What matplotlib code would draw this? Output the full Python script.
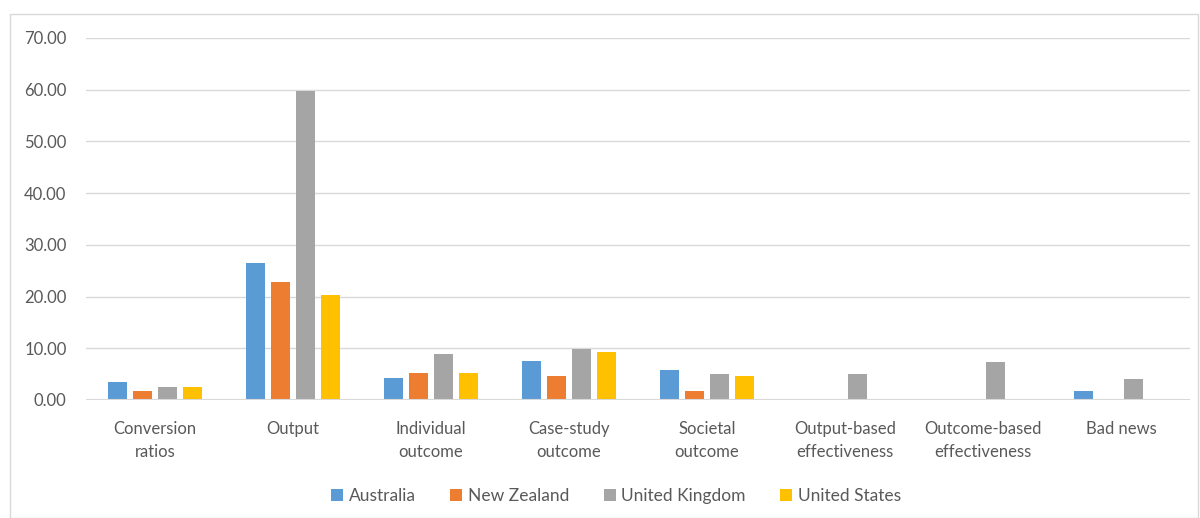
import numpy as np
import matplotlib.pyplot as plt
from matplotlib.patches import Rectangle

# Datos
categorias = ["Conversion\nratios", "Output", "Individual\noutcome", "Case-study\noutcome",
              "Societal\noutcome", "Output-based\neffectiveness", "Outcome-based\neffectiveness",
              "Bad news"]
paises = ["Australia", "New Zealand", "United Kingdom", "United States"]
australia = [3.4, 26.4, 4.2, 7.6, 5.8, 0.0, 0.0, 1.8]
nuevaZelanda = [1.8, 22.8, 5.2, 4.6, 1.8, 0.0, 0.0, 0.0]
reinoUnido = [2.6, 59.7, 8.8, 9.9, 5.1, 5.1, 7.4, 4.1]
estadosUnidos = [2.6, 20.3, 5.2, 9.2, 4.6, 0.0, 0.0, 0.0]
colores = ["#5B9BD5", "#ED7D31", "#A5A5A5", "#FFC000"]

plt.rcParams['font.family'] = ['Lato', 'DejaVu Sans']

fig = plt.figure(figsize=(12, 5.18), dpi=100)
ax = fig.add_axes([86/1200, 1-400/518, 1104/1200, 362/518])

x = np.arange(len(categorias))
paso = 0.182
ancho = 0.142
series = [australia, nuevaZelanda, reinoUnido, estadosUnidos]
for i, valores in enumerate(series):
    ax.bar(x + (i - 1.5)*paso, valores, ancho, color=colores[i], label=paises[i], zorder=3)

ax.set_xlim(-0.5, len(categorias) - 0.5)
ax.set_ylim(0, 70)
ax.set_yticks(np.arange(0, 71, 10))
ax.set_yticklabels(["%.2f" % v for v in np.arange(0, 71, 10)])
ax.grid(axis='y', color='#D9D9D9', linewidth=1, zorder=0)
ax.axhline(0, color='#D9D9D9', linewidth=1.5, zorder=4)
for s in ax.spines.values():
    s.set_visible(False)
ax.tick_params(axis='both', length=0, labelsize=12, colors='#595959')
ax.tick_params(axis='y', pad=14)
ax.tick_params(axis='x', pad=15)
ax.set_xticks(x)
ax.set_xticklabels(categorias, linespacing=1.55)

ax.legend(loc='upper center', bbox_to_anchor=(0.48, -0.20), ncol=4, frameon=False,
          fontsize=12.5, labelcolor='#595959', handlelength=0.7, handleheight=0.7,
          handletextpad=0.3, columnspacing=2.0)

# borde del grafico
fig.patches.append(Rectangle((10/1200, 0), 1188/1200, 1-14/518, transform=fig.transFigure,
                             fill=False, edgecolor='#D9D9D9', linewidth=1))

fig.savefig("out.png", dpi=100)
